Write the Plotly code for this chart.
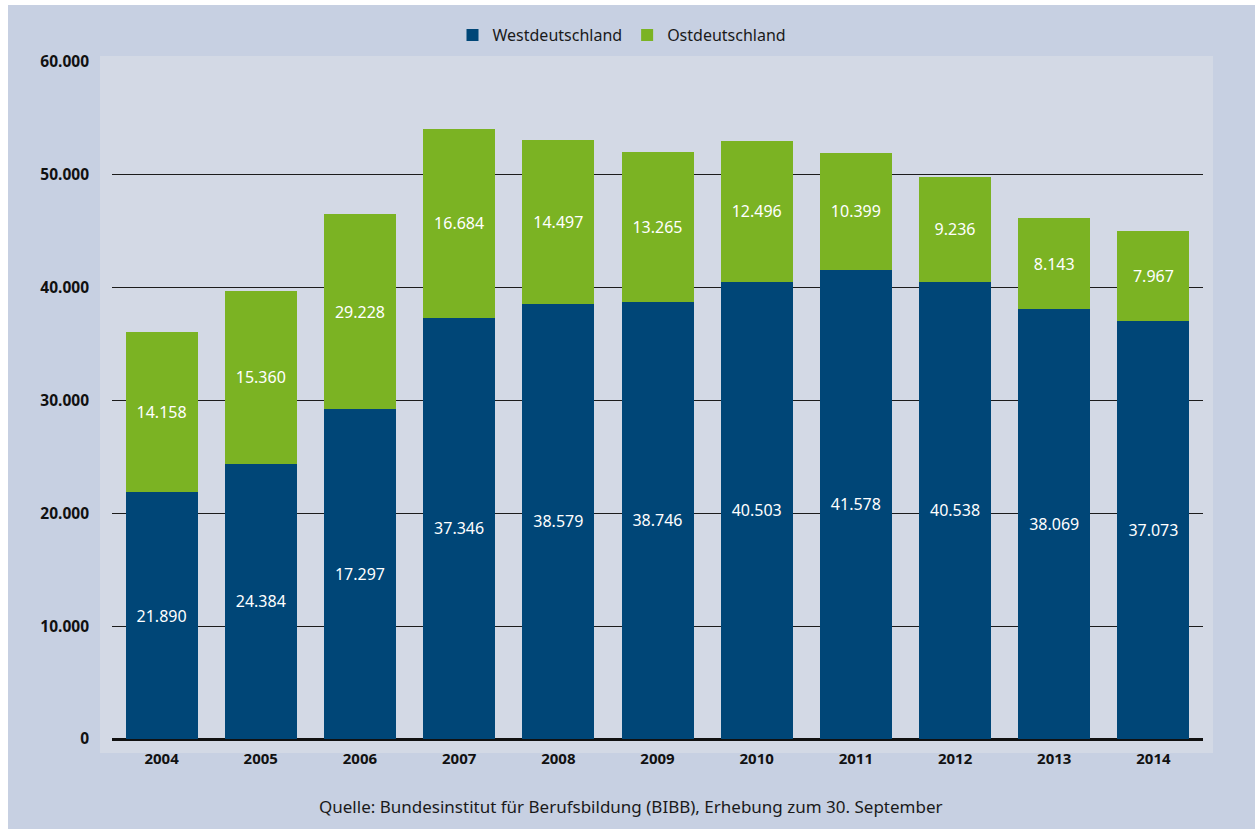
import plotly.graph_objects as go

years = ["2004", "2005", "2006", "2007", "2008", "2009", "2010", "2011", "2012", "2013", "2014"]
west = [21890, 24384, 29228, 37346, 38579, 38746, 40503, 41578, 40538, 38069, 37073]
east = [14158, 15360, 17297, 16684, 14497, 13265, 12496, 10399, 9236, 8143, 7967]
# labels as printed in the source (2006 labels are swapped in the original graphic)
west_text = ["21.890", "24.384", "17.297", "37.346", "38.579", "38.746", "40.503", "41.578", "40.538", "38.069", "37.073"]
east_text = ["14.158", "15.360", "29.228", "16.684", "14.497", "13.265", "12.496", "10.399", "9.236", "8.143", "7.967"]
y_ticks = [0, 10000, 20000, 30000, 40000, 50000, 60000]
y_tick_labels = ["0", "10.000", "20.000", "30.000", "40.000", "50.000", "60.000"]

BLUE = "#004677"
GREEN = "#7bb323"
OUTER = "#c7d0e2"
INNER = "#d3d9e5"
FONT = "Noto Sans"

W, H = 1258, 829
ML, MR, MT, MB = 112, 55, 62, 90
PW = W - ML - MR
PH = H - MT - MB


def px(x):
    return (x - ML) / PW


def py(y):
    return (H - MB - y) / PH


fig = go.Figure()
fig.add_bar(x=years, y=west, name="Westdeutschland", marker_color=BLUE, marker_line_width=0,
            text=west_text, textposition="inside", insidetextanchor="middle", textangle=0,
            insidetextfont=dict(color="white", size=16, family=FONT), hoverinfo="y+name")
fig.add_bar(x=years, y=east, name="Ostdeutschland", marker_color=GREEN, marker_line_width=0,
            text=east_text, textposition="inside", insidetextanchor="middle", textangle=0,
            insidetextfont=dict(color="white", size=16, family=FONT), hoverinfo="y+name")

shapes = [
    # light plot panel
    dict(type="rect", xref="paper", yref="paper", x0=px(100), x1=px(1213), y0=py(753), y1=py(56),
         fillcolor=INNER, line_width=0, layer="below"),
    # white borders
    dict(type="rect", xref="paper", yref="paper", x0=px(0), x1=px(8), y0=py(829), y1=py(0),
         fillcolor="white", line_width=0, layer="below"),
    dict(type="rect", xref="paper", yref="paper", x0=px(0), x1=px(1258), y0=py(5), y1=py(0),
         fillcolor="white", line_width=0, layer="below"),
    dict(type="rect", xref="paper", yref="paper", x0=px(1255), x1=px(1258), y0=py(829), y1=py(0),
         fillcolor="white", line_width=0, layer="below"),
]

fig.update_layout(
    width=W, height=H,
    margin=dict(l=ML, r=MR, t=MT, b=MB, pad=0),
    barmode="stack", bargap=0.274,
    paper_bgcolor=OUTER, plot_bgcolor="rgba(0,0,0,0)",
    font=dict(family=FONT, color="#1a1a1a"),
    uniformtext=dict(minsize=16, mode="show"),
    shapes=shapes,
    legend=dict(orientation="h", x=px(622), xanchor="center", y=py(35), yanchor="middle",
                font=dict(size=16, family=FONT, color="#1a1a1a"), bgcolor="rgba(0,0,0,0)",
                itemwidth=30, traceorder="normal"),
    xaxis=dict(type="category", showgrid=False, showline=False, zeroline=False, ticks="",
               tickfont=dict(size=15, family=FONT, color="#111", weight="bold"), ticklabelstandoff=9),
    yaxis=dict(range=[0, 60000], tickvals=y_ticks, ticktext=y_tick_labels,
               showgrid=True, gridcolor="#1c1c1c", gridwidth=1.3,
               zeroline=True, zerolinecolor="#111", zerolinewidth=2.5,
               showline=False, ticks="", ticklabelstandoff=22,
               tickfont=dict(size=15.5, family=FONT, color="#111", weight="bold")),
    annotations=[dict(text="Quelle: Bundesinstitut für Berufsbildung (BIBB), Erhebung zum 30. September",
                      xref="paper", yref="paper", x=px(631), y=py(806), xanchor="center", yanchor="middle",
                      showarrow=False, font=dict(size=17, family=FONT, color="#1a1a1a"))],
)

fig.write_html("out.html", config={"displayModeBar": False},
               post_script="document.body.style.margin='0';document.body.style.padding='0';")
